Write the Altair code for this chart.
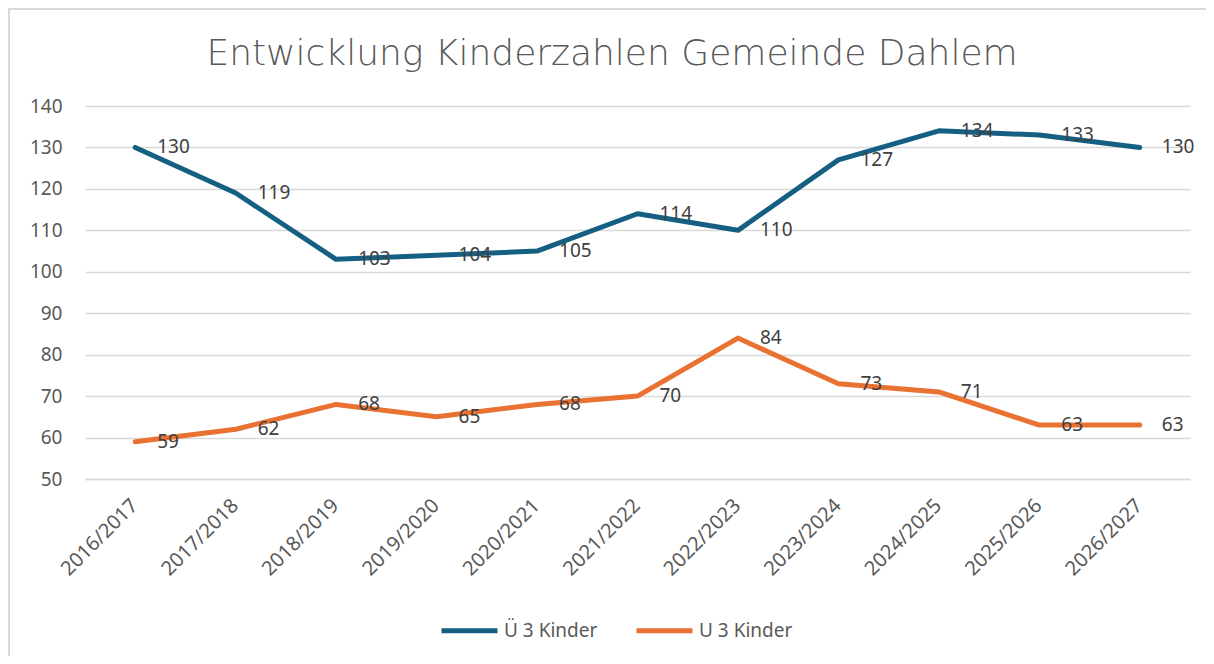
import altair as alt
import pandas as pd

years = ["2016/2017", "2017/2018", "2018/2019", "2019/2020", "2020/2021", "2021/2022",
         "2022/2023", "2023/2024", "2024/2025", "2025/2026", "2026/2027"]
ue3 = [130, 119, 103, 104, 105, 114, 110, 127, 134, 133, 130]
u3 = [59, 62, 68, 65, 68, 70, 84, 73, 71, 63, 63]
series = ["Ü 3 Kinder", "U 3 Kinder"]
colors = ["#156082", "#E97132"]
title_text = "Entwicklung Kinderzahlen Gemeinde Dahlem"

rows = []
for s, vals in zip(series, [ue3, u3]):
    for y, v in zip(years, vals):
        rows.append({"Jahr": y, "Wert": v, "Serie": s})
df = pd.DataFrame(rows)

FONT = "Noto Sans"

x = alt.X("Jahr:N", sort=years, title=None,
          scale=alt.Scale(paddingInner=0, paddingOuter=0.5),
          axis=alt.Axis(labelAngle=-45, labelFontSize=20, labelFont=FONT, labelColor="#595959",
                        ticks=False, domainColor="#d9d9d9", domainWidth=1.5, labelPadding=16,
                        labelOffset=-8, grid=False))
y = alt.Y("Wert:Q", title=None,
          scale=alt.Scale(domain=[50, 140], nice=False, zero=False),
          axis=alt.Axis(values=list(range(50, 141, 10)), labelFontSize=19, labelFont=FONT,
                        labelColor="#595959", ticks=False, domain=False, labelPadding=23,
                        gridColor="#d9d9d9", gridWidth=1.5))
color = alt.Color("Serie:N", scale=alt.Scale(domain=series, range=colors), sort=series,
                  legend=alt.Legend(title=None, orient="none", direction="horizontal",
                                    legendX=354, legendY=494,
                                    symbolType="stroke", symbolSize=3136, symbolStrokeWidth=5,
                                    labelFontSize=19, labelFont=FONT, labelColor="#595959",
                                    labelOffset=4, columnPadding=28))

base = alt.Chart(df)
lines = base.mark_line(strokeWidth=5, strokeCap="round", strokeJoin="round").encode(
    x=x, y=y, color=color, detail="Serie:N")
labels = base.mark_text(align="left", baseline="middle", dx=22, fontSize=19, font=FONT,
                        color="#404040").encode(
    x=alt.X("Jahr:N", sort=years), y="Wert:Q", text="Wert:Q")

title = alt.Chart(pd.DataFrame({"t": [title_text]})).mark_text(
    align="center", baseline="alphabetic", fontSize=36, font="DejaVu Sans", fontWeight=200,
    color="#595959").encode(x=alt.value(527), y=alt.value(-41), text="t:N")

border_left = alt.Chart(df).mark_rule(color="#d9d9d9", strokeWidth=2).encode(
    x=alt.value(-76), y=alt.value(-97), y2=alt.value(551))
border_top = alt.Chart(df).mark_rule(color="#d9d9d9", strokeWidth=2).encode(
    x=alt.value(-77), x2=alt.value(1125), y=alt.value(-97))

chart = alt.layer(border_left, border_top, lines, labels, title).properties(
    width=1105, height=373,
    autosize=alt.AutoSizeParams(type="none"),
    padding={"left": 77, "top": 98, "right": 16, "bottom": 177},
).configure_view(stroke=None)

chart.save("out.html", embed_options={"renderer": "svg", "actions": False})
